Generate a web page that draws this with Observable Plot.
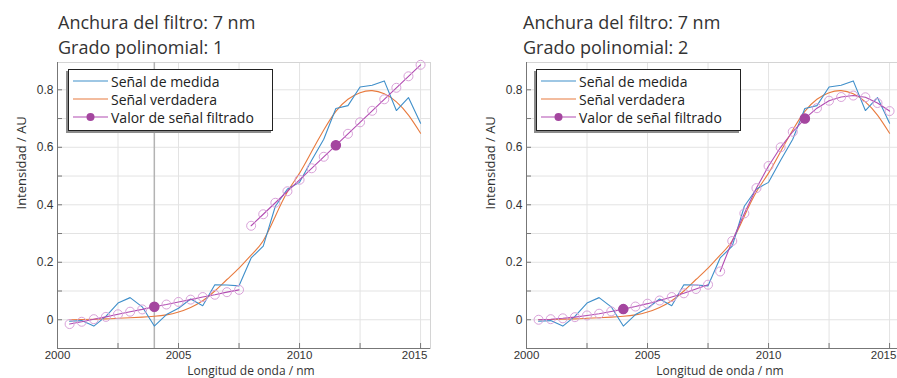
<!DOCTYPE html>
<html>
<head>
<meta charset="utf-8">
<script src="https://cdn.jsdelivr.net/npm/d3@7"></script>
<script src="https://cdn.jsdelivr.net/npm/@observablehq/plot@0.6"></script>
<style>
  body { margin: 0; overflow: hidden; background: #fff; font-family: "Open Sans", sans-serif; }
  #fig { position: relative; width: 897px; height: 378px; overflow: hidden; }
  .title { position: absolute; top: 10px; font-size: 18px; line-height: 25px; color: #333; white-space: nowrap; }
  .panel { position: absolute; top: 52px; width: 440px; height: 326px; }
  .panel svg { max-width: none !important; width: 440px; height: 326px; display: block; }
  .legend { position: absolute; top: 69px; width: 205px; height: 62px; box-sizing: border-box;
            background: #fff; border: 1px solid #222; box-shadow: -2px 2px 0 #8c8c8c;
            font-size: 14px; color: #222; }
  .legend .row { position: absolute; left: 4px; height: 18px; display: flex; align-items: center; white-space: nowrap; }
  .legend svg { margin-right: 3px; display: block; }
</style>
</head>
<body>
<div id="fig"></div>
<script>
// Sampling positions of the signal (nm)
const wavelengths = [2000.5, 2001, 2001.5, 2002, 2002.5, 2003, 2003.5, 2004, 2004.5, 2005,
                     2005.5, 2006, 2006.5, 2007, 2007.5, 2008, 2008.5, 2009, 2009.5, 2010,
                     2010.5, 2011, 2011.5, 2012, 2012.5, 2013, 2013.5, 2014, 2014.5, 2015];
// Noisy measured signal
const measured = [-0.005, -0.003, -0.022, 0.012, 0.058, 0.077, 0.045, -0.022, 0.018, 0.040,
                  0.072, 0.049, 0.122, 0.121, 0.118, 0.215, 0.256, 0.395, 0.455, 0.478,
                  0.555, 0.628, 0.735, 0.745, 0.810, 0.816, 0.831, 0.728, 0.773, 0.684];
// Underlying true signal
const trueSignal = [0.000, 0.001, 0.002, 0.003, 0.005, 0.007, 0.009, 0.012, 0.017, 0.027,
                    0.043, 0.066, 0.100, 0.140, 0.180, 0.225, 0.275, 0.360, 0.445, 0.510,
                    0.585, 0.660, 0.725, 0.767, 0.790, 0.797, 0.786, 0.758, 0.712, 0.649];

// Two filter windows (7 nm wide), each centred on a highlighted point
const windowA = [2000.5, 2001, 2001.5, 2002, 2002.5, 2003, 2003.5, 2004, 2004.5, 2005, 2005.5, 2006, 2006.5, 2007, 2007.5];
const windowB = [2008, 2008.5, 2009, 2009.5, 2010, 2010.5, 2011, 2011.5, 2012, 2012.5, 2013, 2013.5, 2014, 2014.5, 2015];
const windowCenters = [2004, 2011.5];

// Local polynomial fits over each window: degree 1
const fitDeg1A = [-0.015, -0.007, 0.002, 0.010, 0.019, 0.028, 0.036, 0.045, 0.053, 0.062, 0.070, 0.079, 0.087, 0.096, 0.104];
const fitDeg1B = [0.327, 0.367, 0.407, 0.447, 0.487, 0.527, 0.567, 0.607, 0.647, 0.687, 0.727, 0.767, 0.807, 0.847, 0.887];
// Local polynomial fits over each window: degree 2
const fitDeg2A = [0.000, 0.002, 0.005, 0.009, 0.015, 0.021, 0.029, 0.037, 0.046, 0.056, 0.067, 0.079, 0.092, 0.107, 0.122];
const fitDeg2B = [0.168, 0.274, 0.370, 0.458, 0.535, 0.600, 0.654, 0.700, 0.736, 0.762, 0.775, 0.780, 0.774, 0.754, 0.726];

// Axis ticks
const xTickLabels = [2000, 2005, 2010];
const xTickLabelLast = [2015];
const xTicksAll = [2000, 2002.5, 2005, 2007.5, 2010, 2012.5, 2015];
const yTickLabels = [0, 0.2, 0.4, 0.6, 0.8];
const yTicksAll = [-0.1, 0, 0.1, 0.2, 0.3, 0.4, 0.5, 0.6, 0.7, 0.8];

const legendLabels = ["Señal de medida", "Señal verdadera", "Valor de señal filtrado"];

const colors = {
  measured: "#3f8fca",
  truth: "#e87a3e",
  filtered: "#b24cb2",
  filteredRing: "#d9a2d9",
  filteredDot: "#a4469f"
};

const panels = [
  { left: 0, titleLeft: 58, legendLeft: 68, degree: 1, fits: [fitDeg1A, fitDeg1B], cursor: [windowCenters[0]] },
  { left: 469, titleLeft: 523, legendLeft: 536, degree: 2, fits: [fitDeg2A, fitDeg2B], cursor: [] }
];

const windows = [windowA, windowB];
const xDomain = [2000, 2015.41];
const yDomain = [-0.1, 0.895];

const signalRows = wavelengths.map((x, i) => ({ x, measured: measured[i], truth: trueSignal[i] }));

function makePlot(p) {
  const fitRows = p.fits.map((vals, k) => windows[k].map((x, i) => ({ x, y: vals[i], w: k })));
  const centerRows = fitRows.map((rows, k) => rows.find(d => d.x === windowCenters[k]));
  const xLabelOpts = { tickSize: 0, tickPadding: 2, fontSize: 11.5, tickFormat: d => String(d), label: null };
  const marks = [
    Plot.gridX(xTicksAll, { stroke: "#e3e3e3", strokeOpacity: 1 }),
    Plot.gridY(yTicksAll, { stroke: "#e3e3e3", strokeOpacity: 1 }),
    Plot.frame({ stroke: "#d4d4d4" }),
    Plot.ruleX(p.cursor, { stroke: "#b3b3b3", strokeWidth: 1.5 }),
    Plot.ruleX([xDomain[0]], { stroke: "#777" }),
    Plot.ruleY([yDomain[0]], { stroke: "#777" }),
    Plot.axisX(xTicksAll, { tickSize: 5, dy: -5, tickFormat: () => "", stroke: "#777", label: null }),
    Plot.axisY(yTicksAll, { tickSize: 5, dx: 5, tickFormat: () => "", stroke: "#777", label: null }),
    Plot.axisX(xTickLabels, xLabelOpts),
    // the last label is pulled inward so it stays inside the plot edge
    Plot.axisX(xTickLabelLast, { ...xLabelOpts, dx: -6 }),
    Plot.axisY(yTickLabels, { tickSize: 0, tickPadding: 4, tickFormat: d3.format("~g"), label: null }),
    Plot.line(signalRows, { x: "x", y: "truth", stroke: colors.truth, strokeWidth: 1.1, curve: "natural" }),
    Plot.line(signalRows, { x: "x", y: "measured", stroke: colors.measured, strokeWidth: 1.1 }),
    ...fitRows.map(rows => Plot.line(rows, { x: "x", y: "y", stroke: colors.filtered, strokeWidth: 1.1 })),
    ...fitRows.map(rows => Plot.dot(rows, { x: "x", y: "y", r: 4.5, stroke: colors.filteredRing, strokeWidth: 1, fill: "none" })),
    Plot.dot(centerRows, { x: "x", y: "y", r: 4.5, fill: colors.filteredDot, stroke: colors.filteredDot }),
    Plot.text(["Longitud de onda / nm"], { frameAnchor: "bottom", lineAnchor: "top", dy: 18, dx: 7,
      fontSize: 12, fontFamily: "Open Sans", fill: "#333" }),
    Plot.text(["Intensidad / AU"], { frameAnchor: "left", rotate: -90, dx: -36, dy: 4,
      fontSize: 13, fontFamily: "Open Sans", fill: "#333" })
  ];
  return Plot.plot({
    width: 440,
    height: 326,
    marginLeft: 57,
    marginRight: 10,
    marginTop: 10,
    marginBottom: 30,
    style: { fontFamily: '"Liberation Sans", Arial, sans-serif', fontSize: "12px", color: "#333", background: "transparent", overflow: "visible", maxWidth: "none" },
    x: { domain: xDomain },
    y: { domain: yDomain },
    marks
  });
}

function legendSample(i) {
  const c = [colors.measured, colors.truth, colors.filtered][i];
  const ns = "http://www.w3.org/2000/svg";
  const svg = document.createElementNS(ns, "svg");
  svg.setAttribute("width", 35);
  svg.setAttribute("height", 12);
  const line = document.createElementNS(ns, "line");
  line.setAttribute("x1", 0); line.setAttribute("x2", 35);
  line.setAttribute("y1", 6); line.setAttribute("y2", 6);
  line.setAttribute("stroke", c); line.setAttribute("stroke-width", 1.2);
  svg.appendChild(line);
  if (i === 2) {
    const dot = document.createElementNS(ns, "circle");
    dot.setAttribute("cx", 17.5); dot.setAttribute("cy", 6); dot.setAttribute("r", 4);
    dot.setAttribute("fill", colors.filteredDot);
    svg.appendChild(dot);
  }
  return svg;
}

const fig = document.getElementById("fig");
for (const p of panels) {
  const title = document.createElement("div");
  title.className = "title";
  title.style.left = p.titleLeft + "px";
  title.innerHTML = "Anchura del filtro: 7 nm<br>Grado polinomial: " + p.degree;
  fig.appendChild(title);

  const holder = document.createElement("div");
  holder.className = "panel";
  holder.style.left = p.left + "px";
  holder.appendChild(makePlot(p));
  fig.appendChild(holder);

  const legend = document.createElement("div");
  legend.className = "legend";
  legend.style.left = p.legendLeft + "px";
  legendLabels.forEach((label, i) => {
    const row = document.createElement("div");
    row.className = "row";
    row.style.top = (2 + 18 * i) + "px";
    row.appendChild(legendSample(i));
    const span = document.createElement("span");
    span.textContent = label;
    row.appendChild(span);
    legend.appendChild(row);
  });
  fig.appendChild(legend);
}
</script>
</body>
</html>
